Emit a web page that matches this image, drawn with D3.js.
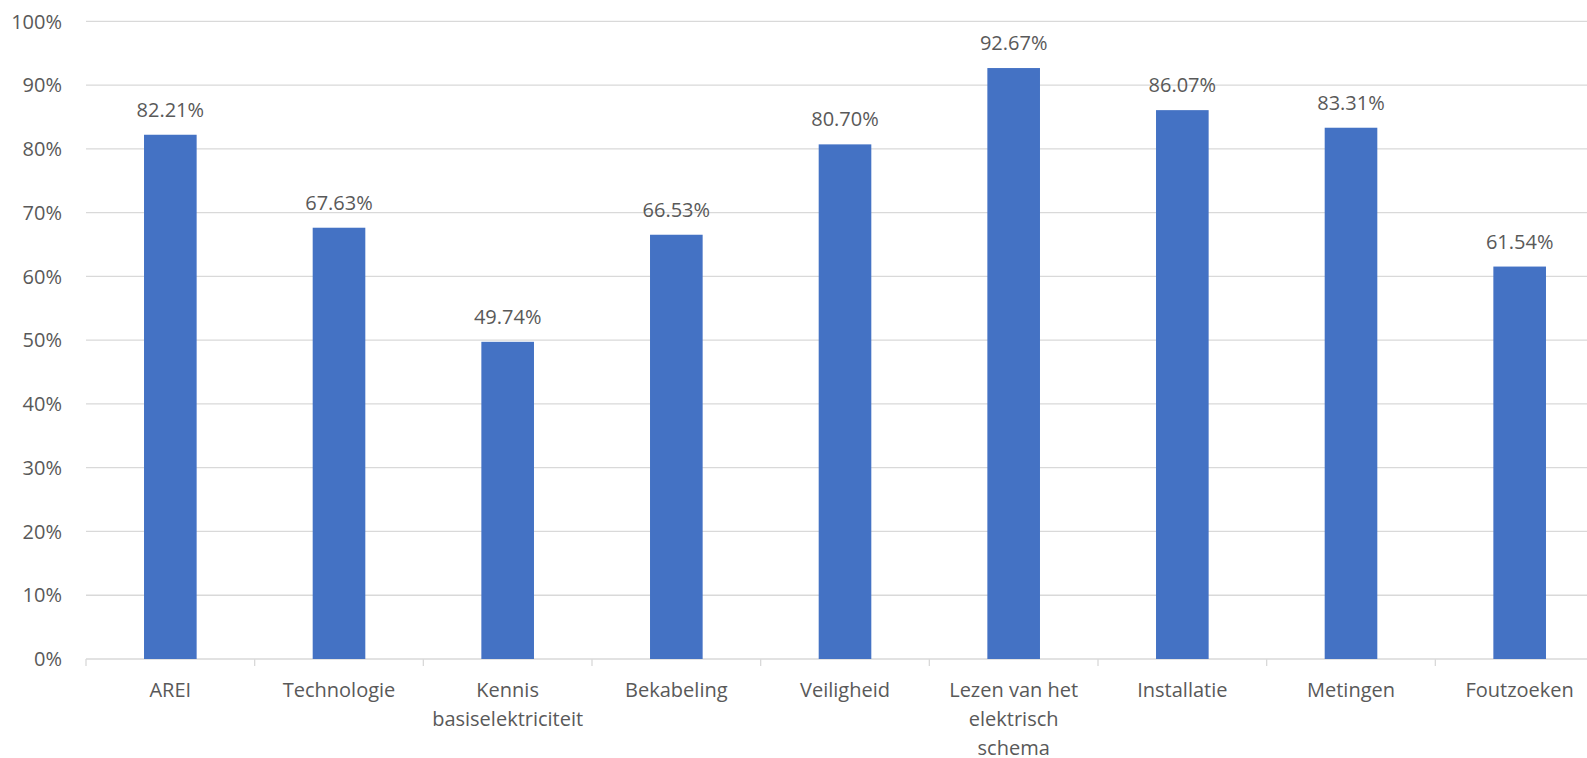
<!DOCTYPE html>
<html><head><meta charset="utf-8">
<script src="https://cdn.jsdelivr.net/npm/d3@7/dist/d3.min.js"></script>
<style>body{margin:0;background:#fff;}svg{display:block;font-family:"Open Sans",sans-serif;}</style>
</head><body>
<svg id="chart" width="1587" height="758"></svg>
<script>
const categories = ["AREI","Technologie","Kennis basiselektriciteit","Bekabeling","Veiligheid","Lezen van het elektrisch schema","Installatie","Metingen","Foutzoeken"];
const values = [82.21,67.63,49.74,66.53,80.70,92.67,86.07,83.31,61.54];
const yTicks = [0,10,20,30,40,50,60,70,80,90,100];

(function(){
const svg = d3.select("#chart");
const pLeft = 86, pRight = 1604, pTop = 21.3, pBottom = 659;
const fs = 20;
const x = d3.scaleBand().domain(categories).range([pLeft, pRight]).paddingInner(0.688).paddingOuter(0.344);
const y = d3.scaleLinear().domain([0,100]).range([pBottom, pTop]);
const textColor = "#595959", gridColor = "#D9D9D9", barColor = "#4472C4";

svg.append("g").selectAll("line").data(yTicks).join("line")
  .attr("x1", pLeft).attr("x2", pRight)
  .attr("y1", d => y(d)).attr("y2", d => y(d))
  .attr("stroke", gridColor).attr("stroke-width", 1.3);

svg.append("g").selectAll("text").data(yTicks).join("text")
  .attr("x", 62).attr("y", d => y(d)).attr("dy", "0.36em")
  .attr("text-anchor", "end").attr("fill", textColor).attr("font-size", fs)
  .text(d => d + "%");

const bounds = d3.range(categories.length + 1).map(i => pLeft + i * (pRight - pLeft) / categories.length);
svg.append("g").selectAll("line").data(bounds).join("line")
  .attr("x1", d => d).attr("x2", d => d)
  .attr("y1", pBottom).attr("y2", pBottom + 7)
  .attr("stroke", gridColor).attr("stroke-width", 1.3);

svg.append("g").selectAll("rect").data(values).join("rect")
  .attr("x", (d,i) => x(categories[i])).attr("width", x.bandwidth())
  .attr("y", d => y(d)).attr("height", d => y(0) - y(d))
  .attr("fill", barColor);

svg.append("g").selectAll("text").data(values).join("text")
  .attr("x", (d,i) => x(categories[i]) + x.bandwidth()/2)
  .attr("y", d => y(d) - 18)
  .attr("text-anchor", "middle").attr("fill", textColor).attr("font-size", fs)
  .text(d => d.toFixed(2) + "%");

const catG = svg.append("g");
const catW = 145;
categories.forEach((c, i) => {
  const cx = x(c) + x.bandwidth()/2;
  const t = catG.append("text").attr("text-anchor","middle").attr("fill",textColor).attr("font-size",fs);
  const words = c.split(" ");
  let lines = [], line = [];
  const probe = t.append("tspan");
  words.forEach(w => {
    const test = line.concat([w]).join(" ");
    probe.text(test);
    if (probe.node().getComputedTextLength() > catW && line.length) { lines.push(line.join(" ")); line = [w]; }
    else line.push(w);
  });
  lines.push(line.join(" "));
  probe.remove();
  lines.forEach((l, k) => {
    t.append("tspan").attr("x", cx).attr("y", 697 + k * 29).text(l);
  });
});
})();
</script>
</body></html>
